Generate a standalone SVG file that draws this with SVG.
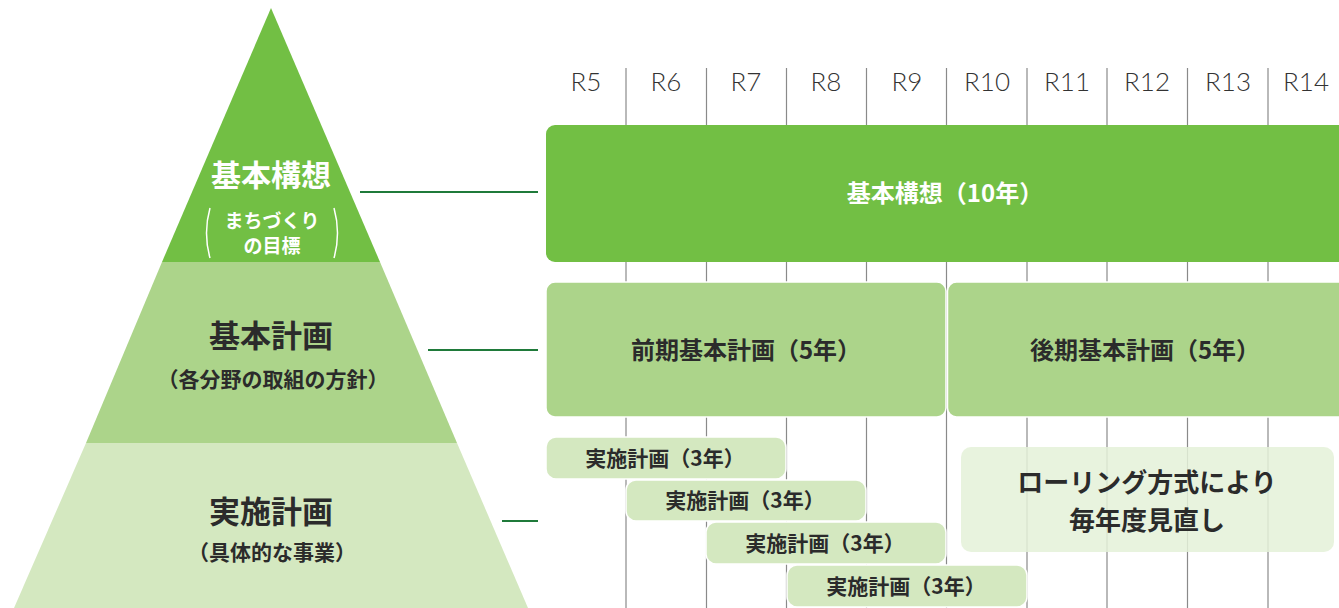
<svg xmlns="http://www.w3.org/2000/svg" width="1339" height="608" viewBox="0 0 1339 608">
<style>
.jp{font-family:"Noto Sans CJK JP","Noto Sans",sans-serif;font-weight:700;text-anchor:middle}
.yr{font-family:"Lato","Open Sans","Liberation Sans",sans-serif;font-weight:300;font-size:26px;fill:#333;text-anchor:middle}
.grid{stroke:#8a8a8a;stroke-width:1.2}
.conn{stroke:#1f7a3a;stroke-width:2.2}
.b1{fill:#72bf44}
.b2{fill:#acd48a;stroke:#fff;stroke-width:1.5}
.b3{fill:#d4e8c0;stroke:#fff;stroke-width:1.5}
.dark{fill:#2b2b2b}
.white{fill:#fff}
</style>
<rect width="1339" height="608" fill="#fff"/>
<g id="pyramid">
<g id="layer-top"><polygon class="b1" points="271,8 380,262 162,262"/>
<text class="jp white" x="271" y="186" font-size="30" font-weight="500">基本構想</text>
<text class="jp white" x="272" y="228" font-size="19" font-weight="500">まちづくり</text>
<text class="jp white" x="272" y="253" font-size="19" font-weight="500">の目標</text>
<path d="M210,208 Q203,233 210,258 M334,208 Q341,233 334,258" fill="none" stroke="#fff" stroke-width="1.5"/>
</g>
<g id="layer-mid"><polygon fill="#acd48a" points="162,262 380,262 457,443 86,443"/>
<text class="jp dark" x="271" y="347" font-size="31" font-weight="500">基本計画</text>
<text class="jp dark" x="273" y="387" font-size="21" font-weight="500">（各分野の取組の方針）</text>
</g>
<g id="layer-bottom"><polygon fill="#d4e8c0" points="86,443 457,443 528,608 14,608"/>
<text class="jp dark" x="271" y="523" font-size="31" font-weight="500">実施計画</text>
<text class="jp dark" x="272" y="560" font-size="21" font-weight="500">（具体的な事業）</text>
</g>
</g>
<g id="years">
<text class="yr" x="586" y="91">R5</text>
<text class="yr" x="666" y="91">R6</text>
<text class="yr" x="746" y="91">R7</text>
<text class="yr" x="826" y="91">R8</text>
<text class="yr" x="907" y="91">R9</text>
<text class="yr" x="987" y="91">R10</text>
<text class="yr" x="1067" y="91">R11</text>
<text class="yr" x="1147" y="91">R12</text>
<text class="yr" x="1228" y="91">R13</text>
<text class="yr" x="1306" y="91">R14</text>
</g>
<g id="grid">
<line class="grid" x1="626" y1="68" x2="626" y2="608"/>
<line class="grid" x1="706.5" y1="68" x2="706.5" y2="608"/>
<line class="grid" x1="786.5" y1="68" x2="786.5" y2="608"/>
<line class="grid" x1="866.5" y1="68" x2="866.5" y2="608"/>
<line class="grid" x1="946.5" y1="68" x2="946.5" y2="608"/>
<line class="grid" x1="1027" y1="68" x2="1027" y2="608"/>
<line class="grid" x1="1107" y1="68" x2="1107" y2="608"/>
<line class="grid" x1="1187.5" y1="68" x2="1187.5" y2="608"/>
<line class="grid" x1="1268" y1="68" x2="1268" y2="608"/>
</g>
<g id="connectors">
<line class="conn" x1="360" y1="192" x2="538" y2="192"/>
<line class="conn" x1="428" y1="350" x2="538" y2="350"/>
<line class="conn" x1="502" y1="521" x2="538" y2="521"/>
</g>
<g id="kihon-koso">
<rect class="b1" x="546" y="125" width="805" height="137" rx="9"/>
<text class="jp white" x="945" y="202" font-size="24">基本構想（10年）</text>
</g>
<g id="zenki">
<rect class="b2" x="546" y="282" width="400" height="135" rx="9"/>
<text class="jp dark" x="746" y="359" font-size="24">前期基本計画（5年）</text>
</g>
<g id="koki">
<rect class="b2" x="947.5" y="282" width="403" height="135" rx="9"/>
<text class="jp dark" x="1145" y="359" font-size="24">後期基本計画（5年）</text>
</g>
<g id="jisshi1">
<rect class="b3" x="546" y="437" width="240" height="42" rx="10"/>
<text class="jp dark" x="665" y="466" font-size="21">実施計画（3年）</text>
</g>
<g id="jisshi2">
<rect class="b3" x="626" y="480" width="240" height="41" rx="10"/>
<text class="jp dark" x="745" y="508" font-size="21">実施計画（3年）</text>
</g>
<g id="jisshi3">
<rect class="b3" x="706" y="522" width="240" height="42" rx="10"/>
<text class="jp dark" x="825" y="551" font-size="21">実施計画（3年）</text>
</g>
<g id="jisshi4">
<rect class="b3" x="787" y="565" width="240" height="42" rx="10"/>
<text class="jp dark" x="906" y="594" font-size="21">実施計画（3年）</text>
</g>
<g id="rolling">
<rect x="961" y="447" width="373" height="105" rx="10" fill="#e4f1d8" fill-opacity="0.85"/>
<text class="jp dark" x="1147" y="492" font-size="26" font-weight="500">ローリング方式により</text>
<text class="jp dark" x="1147" y="530" font-size="26" font-weight="500">毎年度見直し</text>
</g>
</svg>
